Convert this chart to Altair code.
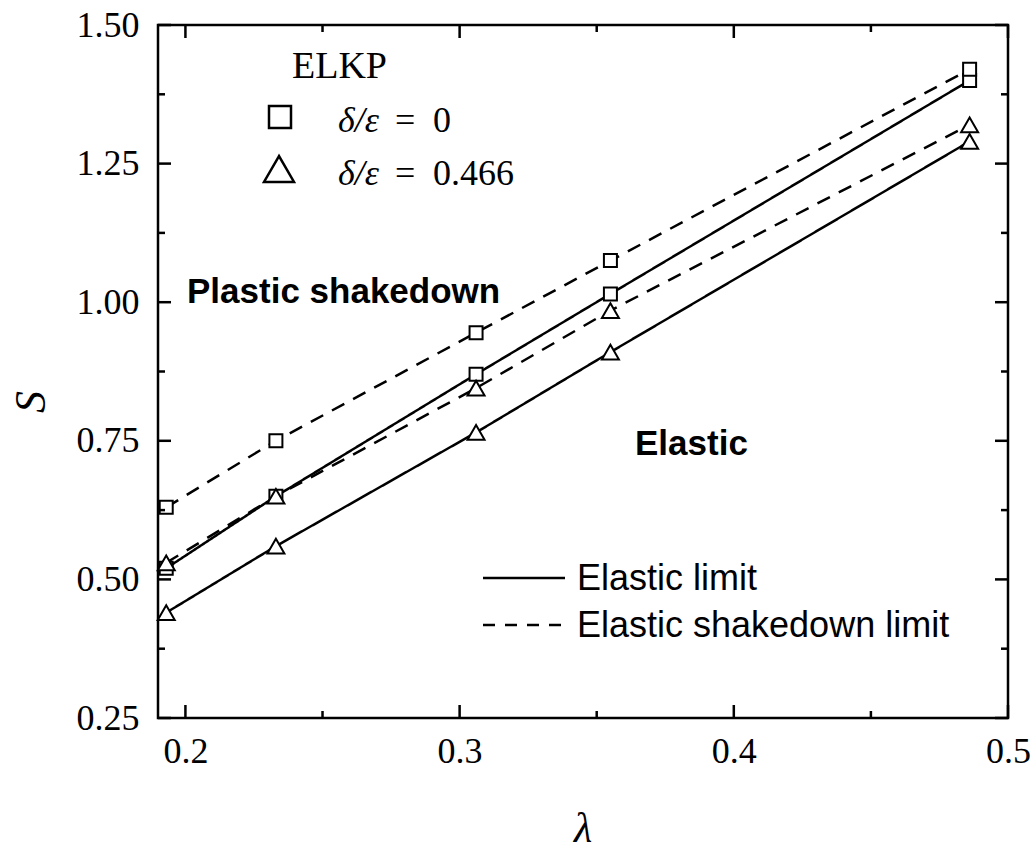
import altair as alt
import pandas as pd

# Loading ratio lambda and shakedown parameter S for the ELKP model
lam = [0.193, 0.233, 0.306, 0.355, 0.486]
s_elastic_0 = [0.52, 0.65, 0.87, 1.015, 1.40]
s_shakedown_0 = [0.63, 0.75, 0.945, 1.075, 1.42]
s_elastic_466 = [0.44, 0.56, 0.765, 0.91, 1.29]
s_shakedown_466 = [0.53, 0.65, 0.845, 0.985, 1.32]

ratios = ["0", "0.466"]
kinds = ["elastic", "shakedown"]

x_major = [0.2, 0.3, 0.4, 0.5]
x_minor = [0.25, 0.35, 0.45]
y_major = [0.25, 0.50, 0.75, 1.00, 1.25, 1.50]
y_minor = [0.375, 0.625, 0.875, 1.125, 1.375]

W, H = 850, 693
SERIF = "Liberation Serif"
SANS = "Liberation Sans"

series = [
    ("0", "elastic", s_elastic_0),
    ("0", "shakedown", s_shakedown_0),
    ("0.466", "shakedown", s_shakedown_466),
    ("0.466", "elastic", s_elastic_466),
]
rows = []
for ratio, kind, vals in series:
    for l, s in zip(lam, vals):
        rows.append({"lam": l, "S": s, "ratio": ratio, "kind": kind,
                     "curve": ratio + "-" + kind})
df = pd.DataFrame(rows)

xscale = alt.Scale(domain=[0.19, 0.5], nice=False, zero=False)
yscale = alt.Scale(domain=[0.25, 1.5], nice=False, zero=False)

x_enc = alt.X("lam:Q", scale=xscale, title=None,
              axis=alt.Axis(values=x_major, format=".1f", ticks=False, domain=False,
                            grid=False, labelFont=SERIF, labelFontSize=36,
                            labelColor="black", labelPadding=16, labelFlush=False))
y_enc = alt.Y("S:Q", scale=yscale, title=None,
              axis=alt.Axis(values=y_major, format=".2f", ticks=False, domain=False,
                            grid=False, labelFont=SERIF, labelFontSize=36,
                            labelColor="black", labelPadding=19))

base = alt.Chart(df)

lines = base.mark_line(color="black", strokeWidth=2.5).encode(
    x=x_enc, y=y_enc, detail="curve:N",
    strokeDash=alt.StrokeDash("kind:N", scale=alt.Scale(domain=kinds, range=[[1, 0], [14, 10]]),
                              legend=None),
)

points = base.mark_point(filled=True, fill="white", stroke="black", strokeWidth=2,
                         opacity=1).encode(
    x="lam:Q", y="S:Q",
    shape=alt.Shape("ratio:N", scale=alt.Scale(domain=ratios, range=["square", "triangle-up"]),
                    legend=None),
    size=alt.Size("ratio:N", scale=alt.Scale(domain=ratios, range=[169, 289]), legend=None),
)

# inward-pointing ticks on all four sides of the frame
def xticks(vals, length):
    d = pd.DataFrame({"lam": vals})
    bottom = alt.Chart(d).mark_rule(color="black", strokeWidth=2.5).encode(
        x="lam:Q", y=alt.value(H), y2=alt.value(H - length))
    top = alt.Chart(d).mark_rule(color="black", strokeWidth=2.5).encode(
        x="lam:Q", y=alt.value(0), y2=alt.value(length))
    return bottom + top

def yticks(vals, length):
    d = pd.DataFrame({"S": vals})
    left = alt.Chart(d).mark_rule(color="black", strokeWidth=2.5).encode(
        y="S:Q", x=alt.value(0), x2=alt.value(length))
    right = alt.Chart(d).mark_rule(color="black", strokeWidth=2.5).encode(
        y="S:Q", x=alt.value(W), x2=alt.value(W - length))
    return left + right

ticks = xticks(x_major, 13) + xticks(x_minor, 7) + yticks(y_major, 13) + yticks(y_minor, 7)

def label(text, x, y, font=SERIF, size=36, style="normal", weight="normal",
          align="left", baseline="alphabetic", angle=0):
    return alt.Chart(pd.DataFrame({"t": [text]})).mark_text(
        font=font, fontSize=size, fontStyle=style, fontWeight=weight, align=align,
        baseline=baseline, angle=angle, color="black",
    ).encode(x=alt.value(x), y=alt.value(y), text="t:N")

def symbol(shape, x, y, size):
    return alt.Chart(pd.DataFrame({"s": [shape]})).mark_point(
        shape=shape, size=size, filled=True, fill="white", stroke="black",
        strokeWidth=2.5, opacity=1,
    ).encode(x=alt.value(x), y=alt.value(y))

def key_line(x1, x2, y, dash):
    return alt.Chart(pd.DataFrame({"k": [0]})).mark_rule(
        color="black", strokeWidth=2.5, strokeDash=dash,
    ).encode(x=alt.value(x1), x2=alt.value(x2), y=alt.value(y))

annotations = (
    label("ELKP", 134, 53, size=38)
    + symbol("square", 122, 92, 484)
    + label("δ/ε", 180, 107, style="italic")
    + label("=", 237, 107)
    + label("0", 275, 107)
    + symbol("triangle-up", 121, 144, 900)
    + label("δ/ε", 180, 160, style="italic")
    + label("=", 237, 160)
    + label("0.466", 275, 160)
    + label("Plastic shakedown", 29, 278, font=SANS, size=35, weight="bold")
    + label("Elastic", 477, 430, font=SANS, size=35, weight="bold")
    + key_line(325, 407, 553, [1, 0])
    + label("Elastic limit", 419, 565, font=SANS, size=36)
    + key_line(325, 407, 600, [12, 10])
    + label("Elastic shakedown limit", 419, 612, font=SANS, size=36)
    + label("S", -126, 377, size=44, style="italic", align="center", baseline="middle", angle=270)
    + label("λ", 425, 817, size=42, style="italic", align="center", baseline="alphabetic")
)

chart = alt.layer(lines, points, ticks, annotations).properties(
    width=W, height=H,
    padding={"left": 158, "top": 25, "right": 28, "bottom": 134},
    autosize=alt.AutoSizeParams(type="none"),
    background="white",
).configure_view(stroke="black", strokeWidth=2.5)

chart.save("out.html", embed_options={"renderer": "svg", "actions": False})
